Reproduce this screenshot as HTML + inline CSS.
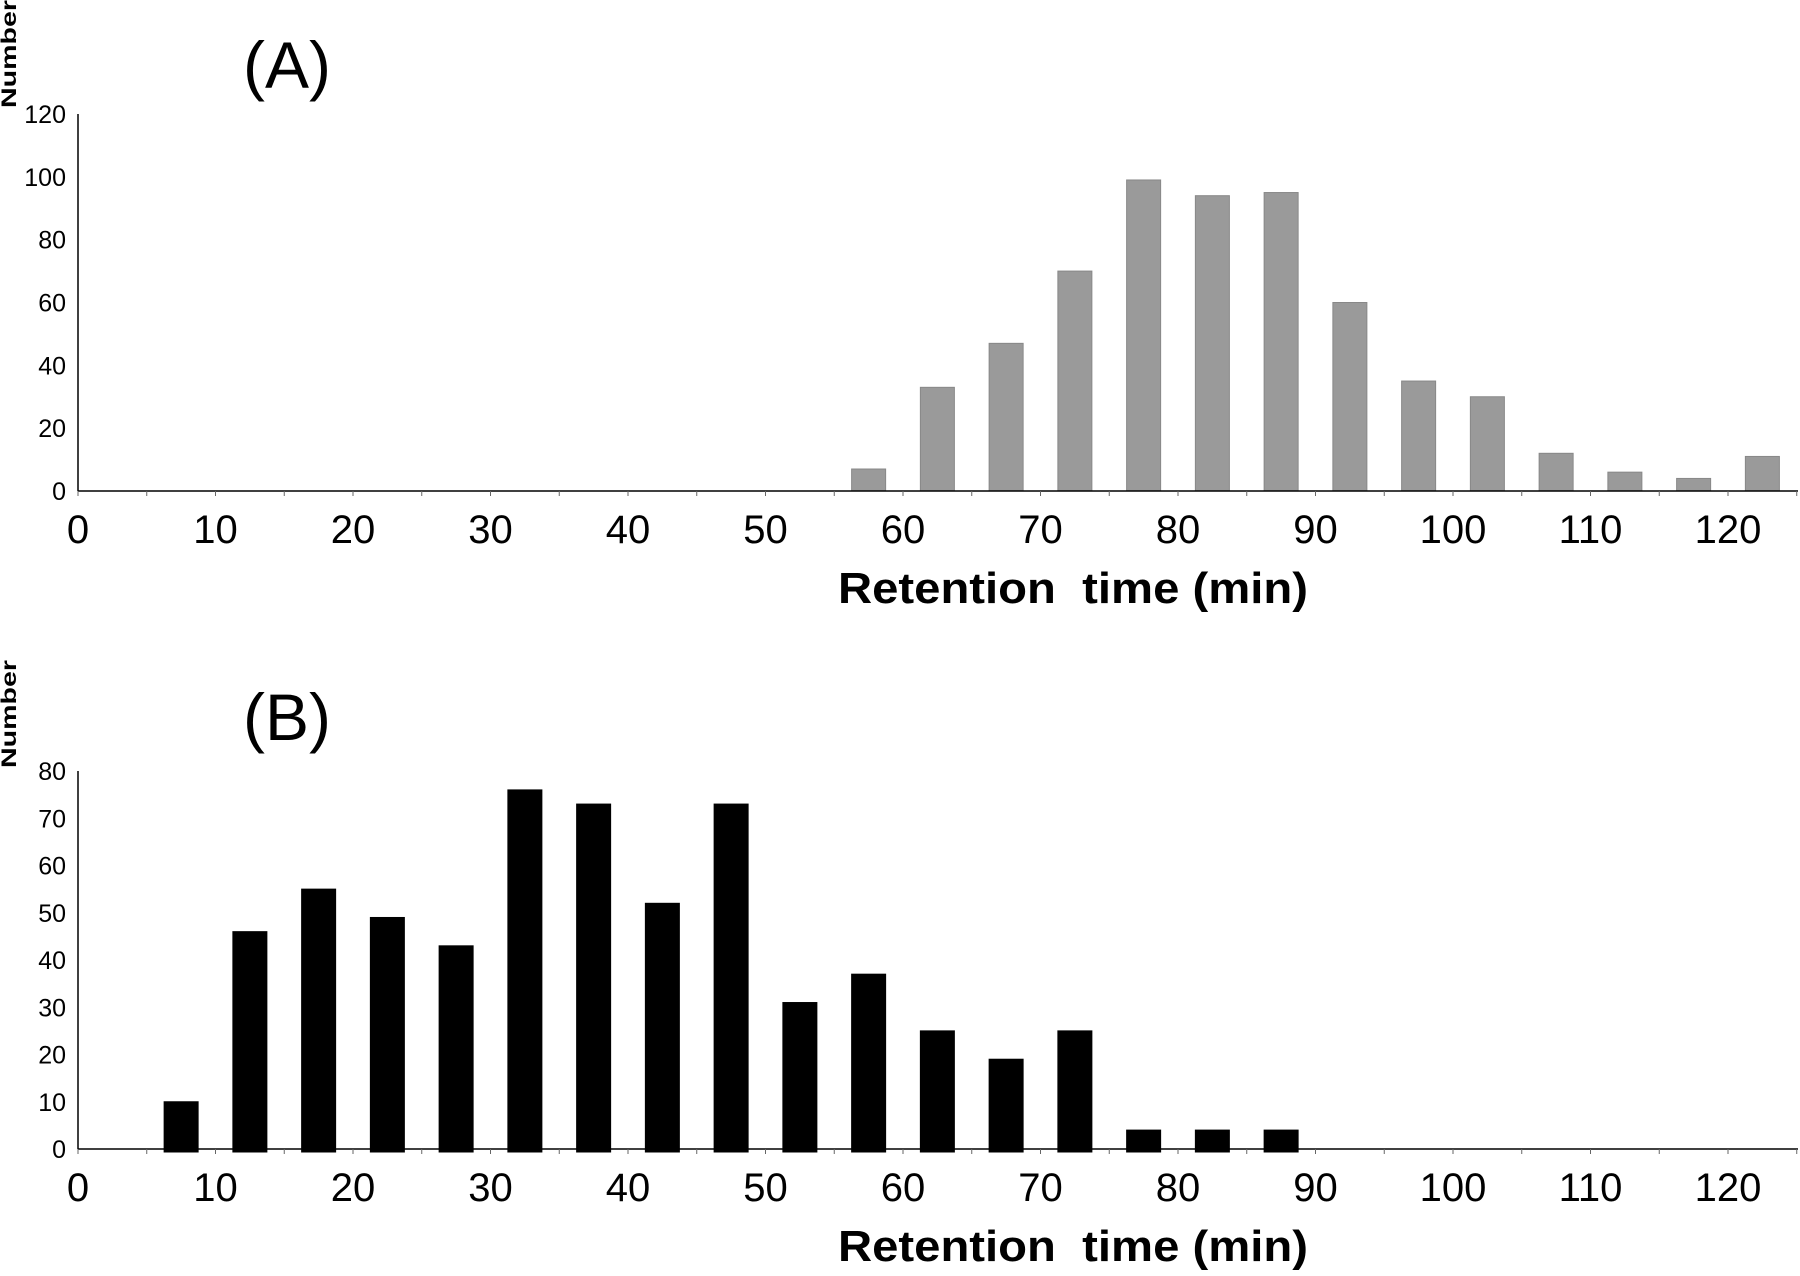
<!DOCTYPE html>
<html><head><meta charset="utf-8"><style>
body{margin:0;background:#fff}
svg{display:block;font-family:"Liberation Sans",Arial,sans-serif}
</style></head><body>
<svg id="c" width="1800" height="1276" viewBox="0 0 1800 1276"></svg>
<script>
const categories=[7.5,12.5,17.5,22.5,27.5,32.5,37.5,42.5,47.5,52.5,57.5,62.5,67.5,72.5,77.5,82.5,87.5,92.5,97.5,102.5,107.5,112.5,117.5,122.5];
const seriesA=[0,0,0,0,0,0,0,0,0,0,7,33,47,70,99,94,95,60,35,30,12,6,4,11];
const seriesB=[10,46,55,49,43,76,73,52,73,31,37,25,19,25,4,4,4,0,0,0,0,0,0,0];
const xTicks=[0,10,20,30,40,50,60,70,80,90,100,110,120];
const yTicksA=[0,20,40,60,80,100,120];
const yTicksB=[0,10,20,30,40,50,60,70,80];
const NS='http://www.w3.org/2000/svg';
const svg=document.getElementById('c');
function mk(t,a,txt){const e=document.createElementNS(NS,t);for(const k in a)e.setAttribute(k,a[k]);if(txt!==undefined)e.textContent=txt;svg.appendChild(e);return e;}
const x0=78,pxU=13.75;
function xs(v){return x0+v*pxU;}
function panel(p){
  const ys=v=>p.y0-(v/p.ymax)*(p.y0-p.yTop);
  let e=mk('text',{x:243,y:p.labelY,'font-size':66},p.label);
  
  
  e=mk('text',{transform:`translate(16,${p.numY}) rotate(-90)`,'text-anchor':'middle','font-size':21,'font-weight':'bold',textLength:108,lengthAdjust:'spacingAndGlyphs'},'Number');
  
  
  e=mk('line',{x1:x0,y1:p.yTop,x2:x0,y2:p.y0,stroke:'#000','stroke-width':1.5});
  
  
  p.yTicks.forEach(t=>{
    e=mk('text',{x:66,y:ys(t)+9,'text-anchor':'end','font-size':25},t);
    
    
  });
  categories.forEach((c,i)=>{
    const v=p.vals[i];if(!v)return;
    e=mk('rect',{x:xs(c)-17,y:ys(v),width:34,height:p.y0-ys(v)+(p.ext||0),fill:p.fill,stroke:p.stroke,'stroke-width':1});
    
    
  });
  e=mk('line',{x1:x0,y1:p.y0,x2:1798,y2:p.y0,stroke:'#000','stroke-width':1.5});
  
  
  for(let v=0;v<=125;v+=5){
    e=mk('line',{x1:xs(v),y1:p.y0,x2:xs(v),y2:p.y0+5,stroke:'#666','stroke-width':1});
    
    
  }
  xTicks.forEach(t=>{
    e=mk('text',{x:xs(t),y:p.y0+52,'text-anchor':'middle','font-size':40},t);
    
    
  });
  e=mk('text',{x:1073,y:p.y0+112,'text-anchor':'middle','font-size':44,'font-weight':'bold',style:'white-space:pre',textLength:470,lengthAdjust:'spacingAndGlyphs'},'Retention  time (min)');
  
  
}
panel({vals:seriesA,yTicks:yTicksA,ymax:120,y0:491,yTop:114,fill:'#9a9a9a',stroke:'#888',label:'(A)',labelY:88,numY:54});
panel({vals:seriesB,yTicks:yTicksB,ymax:80,y0:1149,yTop:771,fill:'#000',stroke:'#000',label:'(B)',labelY:740,numY:714,ext:3});
</script>
</body></html>
